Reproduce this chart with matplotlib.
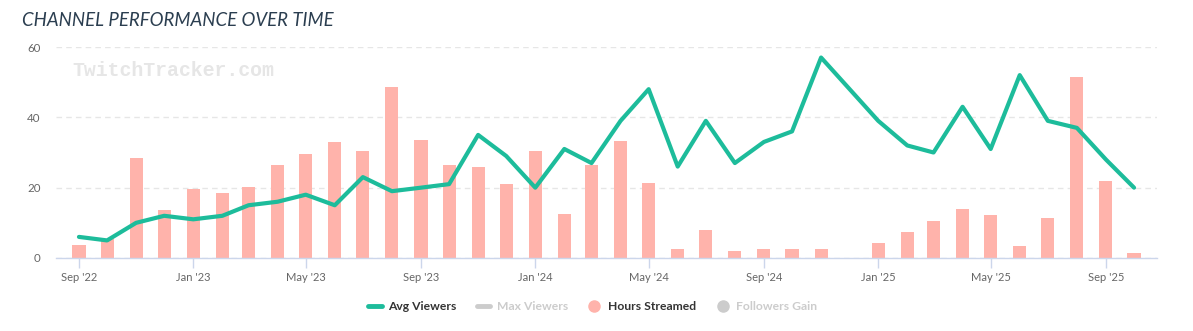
import numpy as np
import pandas as pd
import matplotlib
matplotlib.use("Agg")
import matplotlib.pyplot as plt
import matplotlib.dates as mdates
from matplotlib.lines import Line2D

# ---- data ----
months = pd.date_range("2022-09-01", "2025-10-01", freq="MS")
avg_viewers = [6, 5, 10, 12, 11, 12, 15, 16, 18, 15, 23, 19, 20, 21, 35, 29, 20,
               31, 27, 39, 48, 26, 39, 27, 33, 36, 57, np.nan, 39, 32, 30, 43, 31,
               52, 39, 37, 28, 20]
hours_streamed = [3.8, 5.5, 28.5, 13.7, 19.7, 18.6, 20.3, 26.5, 29.7, 33.1, 30.5,
                  48.7, 33.6, 26.5, 26.0, 21.1, 30.5, 12.6, 26.5, 33.4, 21.4, 2.65,
                  8.1, 2.1, 2.65, 2.65, 2.65, 0, 4.4, 7.5, 10.6, 14.0, 12.3, 3.5,
                  11.5, 51.6, 22.0, 1.5]
tick_dates = pd.date_range("2022-09-01", "2025-09-01", freq="4MS")
y_ticks = [0, 20, 40, 60]
title = "CHANNEL PERFORMANCE OVER TIME"
legend_items = ["Avg Viewers", "Max Viewers", "Hours Streamed", "Followers Gain"]

# ---- styles ----
TEAL = "#1dbc9b"
SALMON = "#ffb3ab"
AXIS = "#ccd6eb"
GRID = "#e6e6e6"
TXT = "#666666"
W, H = 1193, 331

fig = plt.figure(figsize=(W / 100, H / 100), dpi=100)
ax = fig.add_axes([56 / W, (H - 258) / H, (1157 - 56) / W, (258 - 47) / H])

x = mdates.date2num(months.to_pydatetime())
ax.bar(x, hours_streamed, width=14, color=SALMON, zorder=2)
av = np.array(avg_viewers, dtype=float)
m = ~np.isnan(av)
ax.plot(x[m], av[m], color=TEAL, lw=3.0, solid_joinstyle="round",
        solid_capstyle="round", zorder=3)

ax.set_ylim(0, 60)
ax.set_yticks(y_ticks)
ax.set_xlim(x[0] - 24.5, x[-1] + 24.5)
tx = mdates.date2num(tick_dates.to_pydatetime())
ax.set_xticks(tx)
ax.set_xticklabels([d.strftime("%b '%y") for d in tick_dates])

for s in ["top", "right", "left"]:
    ax.spines[s].set_visible(False)
ax.spines["bottom"].set_color(AXIS)
ax.spines["bottom"].set_linewidth(1)
ax.grid(axis="y", color=GRID, linestyle=(0, (4, 3)), linewidth=1, zorder=0)
ax.set_axisbelow(True)
ax.tick_params(axis="x", color=AXIS, length=7, width=1, labelcolor=TXT,
               labelsize=8, pad=3)
ax.tick_params(axis="y", length=0, labelcolor=TXT, labelsize=8.3, pad=11)
for lbl in ax.get_xticklabels() + ax.get_yticklabels():
    lbl.set_fontfamily("Lato")

# watermark
fig.text(72 / W, 1 - 70 / H, "TwitchTracker.com", family="Liberation Mono",
         weight="bold", fontsize=14.3, color="#e6e6e6", va="center", ha="left")

# title
fig.text(22 / W, 1 - 21 / H, title, family="Lato", style="italic",
         fontsize=13.4, color="#2b3e50", va="center", ha="left")

# legend
ly = 1 - 306 / H
fs = 8.7
fig.add_artist(Line2D([368 / W, 382 / W], [ly, ly], color=TEAL, lw=3.5,
                      solid_capstyle="round", transform=fig.transFigure))
fig.text(388 / W, ly, legend_items[0], family="Lato", weight="bold",
         fontsize=fs, color="#333333", va="center", ha="left")
fig.add_artist(Line2D([477 / W, 490 / W], [ly, ly], color="#cccccc", lw=3.5,
                      solid_capstyle="round", transform=fig.transFigure))
fig.text(497 / W, ly, legend_items[1], family="Lato", weight="bold",
         fontsize=fs, color="#cccccc", va="center", ha="left")
fig.add_artist(Line2D([594 / W], [ly], marker="o", markersize=8, color=SALMON,
                      lw=0, transform=fig.transFigure))
fig.text(608 / W, ly, legend_items[2], family="Lato", weight="bold",
         fontsize=fs, color="#333333", va="center", ha="left")
fig.add_artist(Line2D([723 / W], [ly], marker="o", markersize=8, color="#cccccc",
                      lw=0, transform=fig.transFigure))
fig.text(736 / W, ly, legend_items[3], family="Lato", weight="bold",
         fontsize=fs, color="#cccccc", va="center", ha="left")

fig.savefig("out.png", dpi=100)
